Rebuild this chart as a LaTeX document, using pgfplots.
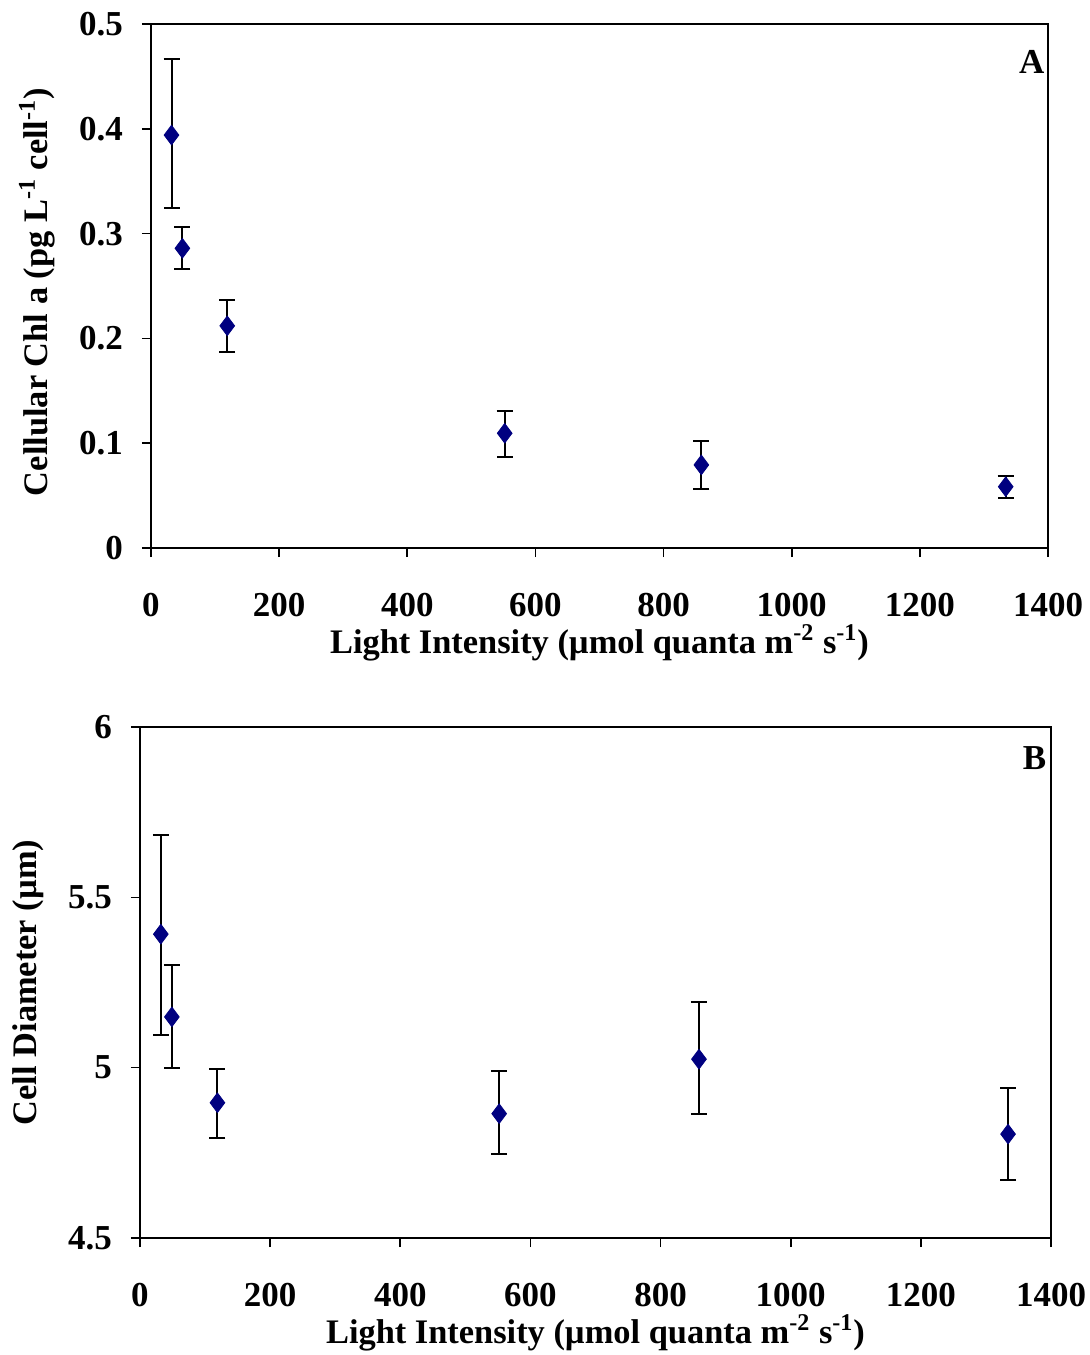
\documentclass[border=0pt]{standalone}
\usepackage{fontspec}
\setmainfont{Liberation Serif}
\usepackage{pgfplots}
\pgfplotsset{compat=1.18}
\usepackage{pgfplotstable}
\definecolor{navy}{HTML}{000080}

\pgfplotstableread{
x y ep em
32 0.394 0.073 0.070
49 0.286 0.020 0.020
119 0.212 0.025 0.025
552 0.1095 0.0215 0.0227
859 0.0793 0.0227 0.0228
1334 0.0585 0.0105 0.0106
}\dataA

\pgfplotstableread{
x y ep em
32 5.392 0.292 0.295
49 5.149 0.152 0.149
119 4.897 0.098 0.102
552 4.865 0.125 0.119
859 5.025 0.169 0.160
1334 4.805 0.135 0.134
}\dataB

\pgfplotsset{
 myaxis/.style={
  scale only axis,
  xmin=0, xmax=1400, xtick={0,200,...,1400},
  axis line style={black, line width=0.8pt},
  tick style={black, line width=0.8pt},
  tick align=outside,
  xtick pos=bottom, ytick pos=left,
  major tick length=4.5pt,
  tick label style={font=\fontsize{17.5}{19}\selectfont\bfseries},
  label style={font=\fontsize{17.2}{19}\selectfont\bfseries},
  /pgf/number format/assume math mode=true,
  /pgf/number format/1000 sep={},
  xticklabel style={yshift=-14.5pt},
  yticklabel style={xshift=-6pt},
  xlabel style={at={(axis description cs:0.5,0)}, anchor=center, yshift=-47.5pt},
  clip=false,
 },
 mypts/.style={only marks, mark=diamond*, mark size=4.9pt,
  mark options={fill=navy, draw=navy},
  error bars/.cd, y dir=both, y explicit,
  error mark options={rotate=90, mark size=4pt, line width=1pt, black},
  error bar style={line width=1pt, black}},
}

\begin{document}
\begin{tikzpicture}
\useasboundingbox (0,0) rectangle (545pt,-677.5pt);
\begin{axis}[myaxis,
  at={(75.5pt,-274pt)}, anchor=south west,
  width=448.5pt, height=262pt,
  ymin=0, ymax=0.5, ytick={0,0.1,...,0.5},
  yticklabel style={/pgf/number format/.cd, fixed, precision=1},
  xlabel={Light Intensity (µmol quanta m\textsuperscript{-2} s\textsuperscript{-1})},
  ylabel={Cellular Chl a (pg L\textsuperscript{-1} cell\textsuperscript{-1})},
  ylabel style={at={(axis description cs:0,0.5)}, anchor=center, yshift=57pt, xshift=-3pt},
]
\addplot+[mypts] table[x=x, y=y, y error plus=ep, y error minus=em] {\dataA};
\node[font=\fontsize{17.5}{19}\selectfont\bfseries] at (rel axis cs:0.982,0.927) {A};
\end{axis}
\begin{axis}[myaxis,
  at={(70pt,-619pt)}, anchor=south west,
  width=455.5pt, height=255.5pt,
  ymin=4.5, ymax=6, ytick={4.5,5,5.5,6},
  xlabel={Light Intensity (µmol quanta m\textsuperscript{-2} s\textsuperscript{-1})},
  ylabel={Cell Diameter (µm)},
  ylabel style={at={(axis description cs:0,0.5)}, anchor=center, yshift=56pt},
]
\addplot+[mypts] table[x=x, y=y, y error plus=ep, y error minus=em] {\dataB};
\node[font=\fontsize{17.5}{19}\selectfont\bfseries] at (rel axis cs:0.982,0.94) {B};
\end{axis}
\end{tikzpicture}
\end{document}
